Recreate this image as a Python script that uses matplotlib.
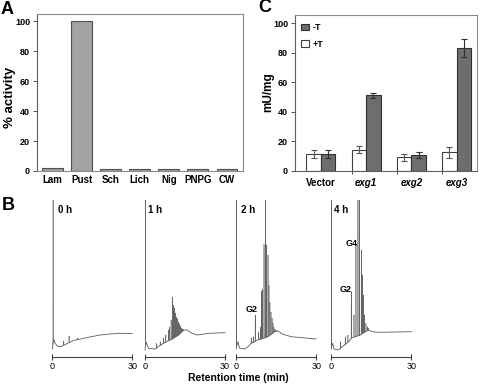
import numpy as np
import matplotlib
matplotlib.use('Agg')
import matplotlib.pyplot as plt
from matplotlib.patches import Patch

plt.rcParams['font.family'] = ['Liberation Sans', 'DejaVu Sans']
plt.rcParams['font.weight'] = 'bold'

# ---------------- Panel A data ----------------
substrates = ['Lam', 'Pust', 'Sch', 'Lich', 'Nig', 'PNPG', 'CW']
activity = [2.2, 100, 1.6, 1.3, 1.1, 1.1, 1.3]
a_yticks = [0, 20, 40, 60, 80, 100]

# ---------------- Panel C data ----------------
strains = ['Vector', 'exg1', 'exg2', 'exg3']
plusT = [11.5, 14.5, 9.3, 12.7]
plusT_err = [3.0, 2.4, 2.2, 3.6]
minusT = [11.5, 51.3, 11.0, 83.3]
minusT_err = [3.0, 1.8, 2.0, 6.0]
c_yticks = [0, 20, 40, 60, 80, 100]

# ---------------- Panel B data (retention time min, signal) ----------------
chrom_labels = ['0 h', '1 h', '2 h', '4 h']

base0_t = [0, 0.15, 0.5, 1.0, 2.0, 3.0, 4.5, 6.0, 8.0, 10.5, 14.0, 18.0, 20.5, 25.0, 30.0]
base0_y = [1, 4, 11, 7, 3.5, 3.2, 5, 7, 9.5, 11, 13, 15, 15.7, 16.7, 16.5]
peak0_t = [0.3, 4.3, 6.3, 9.5]
peak0_h = [150, 9, 14, 12]

base1_t = [0, 0.15, 0.4, 1.3, 3.8, 5.0, 6.3, 7.6, 8.8, 10.1, 12.6, 14.5, 15.8, 17.7, 19.5, 24.0, 30.0]
base1_y = [0, 4, 8, 1.5, 1, 3.3, 5.7, 7.7, 9.3, 10.7, 15, 20, 20, 16.7, 15, 16.7, 17.3]
peak1_t = [0.2, 4.4, 5.7, 6.9, 7.8, 8.8, 9.3, 9.8, 10.3, 10.7, 11.1, 11.5, 11.85, 12.2,
           12.6, 13.0, 13.35, 13.7, 14.1, 14.4]
peak1_h = [150, 6.7, 8.3, 11.7, 15, 20, 23, 30, 53, 45, 42, 37, 33, 31,
           28, 26, 24, 22, 21, 20.5]

base2_t = [0, 0.15, 0.6, 1.25, 3.1, 4.4, 5.6, 6.9, 7.9, 9.4, 11.9, 14.4, 15.6, 17.5, 20.6, 30.0]
base2_y = [1, 4, 8.3, 1.7, 1, 3.3, 6.7, 8.3, 10, 11, 13.3, 18.3, 19, 15.7, 13.3, 11]
peak2_t = [0.1, 5.6, 6.4, 7.1, 8.4, 9.0, 9.4, 9.9, 10.4, 10.9, 11.4, 11.9, 12.25, 12.6,
           13.0, 13.4, 13.75, 14.1, 14.5, 14.9]
peak2_h = [150, 12.3, 13.3, 35, 18, 23, 59, 60.7, 105.7, 150, 105, 95, 65, 48,
           38, 32, 27, 23, 21, 20]

base4_t = [0, 0.15, 0.5, 1.0, 2.75, 4.0, 5.25, 6.5, 7.75, 9.0, 10.9, 12.75, 14.0, 15.25, 17.75, 30.0]
base4_y = [1, 4, 6.7, 1, 0, 3.3, 5.7, 8.3, 12.3, 13.3, 15, 18.3, 20, 18.3, 17.7, 18.3]
peak4_t = [0.05, 3.4, 5.25, 6.25, 7.5, 8.5, 9.25, 10.0, 10.5, 11.25, 11.75, 12.1, 12.5,
           13.0, 13.5, 14.0]
peak4_h = [150, 8.3, 13.3, 15, 58.3, 35, 105, 150, 150, 100, 75, 55, 35,
           26.7, 23.3, 21.7]

chrom_base_t = [base0_t, base1_t, base2_t, base4_t]
chrom_base_y = [base0_y, base1_y, base2_y, base4_y]
chrom_peak_t = [peak0_t, peak1_t, peak2_t, peak4_t]
chrom_peak_h = [peak0_h, peak1_h, peak2_h, peak4_h]
peak_names = [[], [], [('G2', 5.9, 41)], [('G2', 5.5, 61), ('G4', 7.75, 107)]]

# ---------------- Figure ----------------
W, H = 480, 386
fig = plt.figure(figsize=(W / 100, H / 100), dpi=100)


def px_axes(l, t, r, b):
    return fig.add_axes([l / W, 1 - b / H, (r - l) / W, (b - t) / H])


def ftext(x, y, s, **kw):
    fig.text(x / W, 1 - y / H, s, **kw)


gray_spine = '#8c8c8c'

# ----- Panel A -----
axA = px_axes(37, 14, 243, 171)
xA = np.arange(len(substrates))
axA.bar(xA, activity, width=0.72, color='#a3a3a3', edgecolor='#505050', linewidth=0.8)
axA.set_xlim(-0.53, 6.55)
axA.set_ylim(0, 105)
axA.set_yticks(a_yticks)
axA.set_yticklabels([str(v) for v in a_yticks], fontsize=6.5, fontweight='bold')
axA.set_xticks(xA)
axA.set_xticklabels(substrates, fontsize=7, fontweight='bold')
axA.tick_params(axis='x', length=0, pad=3)
axA.tick_params(axis='y', length=3, width=0.7, pad=2, color='#505050')
for s in ['top', 'right', 'bottom']:
    axA.spines[s].set_color(gray_spine)
    axA.spines[s].set_linewidth(0.8)
axA.spines['left'].set_color('#606060')
axA.spines['left'].set_linewidth(0.8)
ftext(10, 97, '% activity', ha='center', va='center', rotation=90, fontsize=9.5,
      fontweight='bold')

# ----- Panel C -----
axC = px_axes(295, 15, 477, 171)
xC = np.arange(len(strains))
bw = 0.32
axC.bar(xC - bw / 2, plusT, width=bw, color='white', edgecolor='#404040', linewidth=0.8,
        yerr=plusT_err, error_kw=dict(ecolor='#555555', elinewidth=0.8, capsize=2, capthick=0.8))
axC.bar(xC + bw / 2, minusT, width=bw, color='#6e6e6e', edgecolor='#303030', linewidth=0.8,
        yerr=minusT_err, error_kw=dict(ecolor='#303030', elinewidth=0.8, capsize=2, capthick=0.8))
axC.set_xlim(-0.57, 3.45)
axC.set_ylim(0, 105.6)
axC.set_yticks(c_yticks)
axC.set_yticklabels([str(v) for v in c_yticks], fontsize=6.5, fontweight='bold')
axC.set_xticks(xC[1:] - bw)
axC.set_xticklabels([])
axC.tick_params(axis='x', length=2.5, width=0.7, color='#505050')
axC.tick_params(axis='y', length=3, width=0.7, pad=2, color='#505050')
for i, name in enumerate(strains):
    style = 'normal' if name == 'Vector' else 'italic'
    axC.text(xC[i], -4.5, name, ha='center', va='top', fontsize=7, fontweight='bold',
             fontstyle=style, clip_on=False)
for s in ['top', 'right']:
    axC.spines[s].set_color(gray_spine)
    axC.spines[s].set_linewidth(0.8)
axC.spines['left'].set_color('#606060')
axC.spines['bottom'].set_color('#606060')
axC.spines['left'].set_linewidth(0.8)
axC.spines['bottom'].set_linewidth(0.8)
ftext(268, 92, 'mU/mg', ha='center', va='center', rotation=90, fontsize=8.5,
      fontweight='bold')
handles = [Patch(facecolor='#6e6e6e', edgecolor='#303030', linewidth=0.8, label='-T'),
           Patch(facecolor='white', edgecolor='#404040', linewidth=0.8, label='+T')]
axC.legend(handles=handles, loc='upper left', bbox_to_anchor=(-0.01, 1.0), frameon=False,
           handlelength=0.8, handleheight=0.8, handletextpad=0.5,
           labelspacing=0.85, borderaxespad=0.5, prop=dict(weight='bold', size=6.5))

# ----- Panel B -----
chrom_x0 = [52.3, 145, 236.3, 331.3]
label_t = [2.1, 1.1, 1.8, 1.0]
w = 0.06
trace_color = '#5a5a5a'
peak_color = '#666666'
for k in range(4):
    ax = px_axes(chrom_x0[k], 200, chrom_x0[k] + 80, 356.7)
    bt = np.array(chrom_base_t[k], dtype=float)
    by = np.array(chrom_base_y[k], dtype=float)
    ax.plot(bt, by, color=trace_color, lw=0.6, clip_on=False)
    for pt, ph in zip(chrom_peak_t[k], chrom_peak_h[k]):
        xs = [pt - w, pt, pt + w]
        ys = [np.interp(pt - w, bt, by), ph, np.interp(pt + w, bt, by)]
        ax.plot(xs, ys, color=peak_color, lw=0.4, clip_on=False)
    ax.set_xlim(0, 30)
    ax.set_ylim(-6.7, 150)
    for s in ['top', 'right', 'left']:
        ax.spines[s].set_visible(False)
    ax.spines['bottom'].set_color('#404040')
    ax.spines['bottom'].set_linewidth(0.8)
    ax.set_yticks([])
    ax.set_xticks([0, 30])
    ax.set_xticklabels(['0', '30'], fontsize=6.5, fontweight='normal')
    ax.tick_params(axis='x', direction='inout', length=5, width=0.8, pad=1, color='#404040')
    ax.patch.set_alpha(0)
    ax.text(label_t[k], 140, chrom_labels[k], ha='left', va='center', fontsize=7,
            fontweight='bold')
    for name, nt, ny in peak_names[k]:
        ax.text(nt, ny, name, ha='center', va='center', fontsize=6.5, fontweight='bold')

ftext(238, 378, 'Retention time (min)', ha='center', va='center', fontsize=7.5,
      fontweight='bold')

# panel letters
ftext(7, 9, 'A', ha='center', va='center', fontsize=13, fontweight='bold')
ftext(8, 206, 'B', ha='center', va='center', fontsize=13, fontweight='bold')
ftext(265, 8, 'C', ha='center', va='center', fontsize=13, fontweight='bold')

fig.savefig('out.png', dpi=100)
